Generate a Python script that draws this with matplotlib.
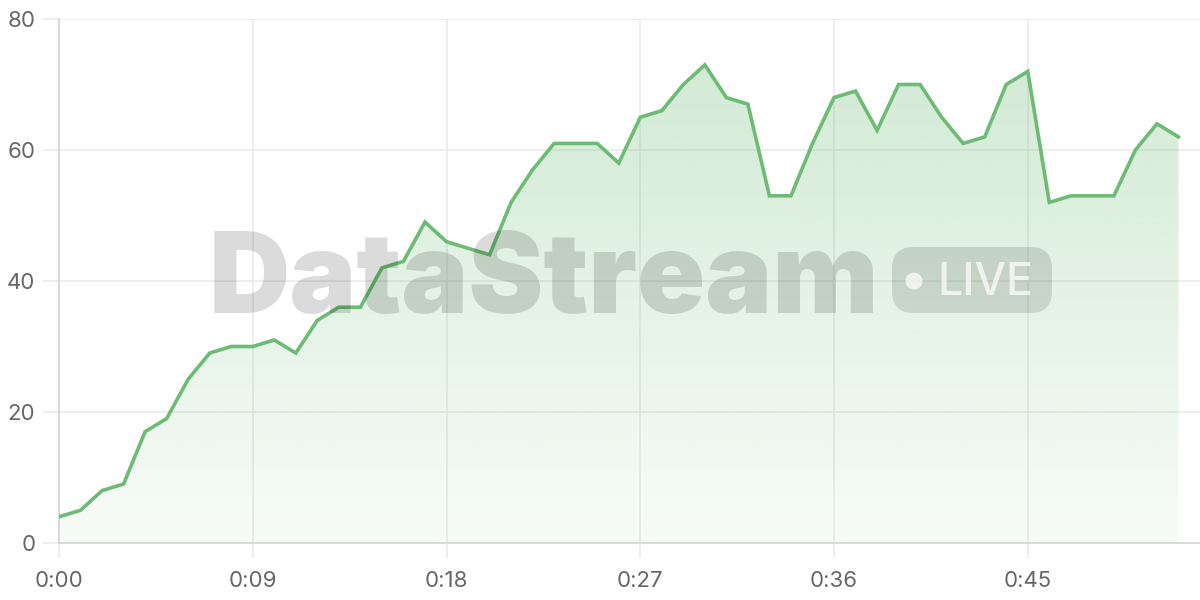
import matplotlib
matplotlib.use("Agg")
import matplotlib.pyplot as plt
import numpy as np
from matplotlib.patches import FancyBboxPatch, Ellipse, Polygon
from matplotlib.ticker import FixedLocator, FuncFormatter

seconds = list(range(53))
values = [4, 5, 8, 9, 17, 19, 25, 29, 30, 30, 31, 29, 34, 36, 36, 42, 43, 49, 46, 45,
          44, 52, 57, 61, 61, 61, 58, 65, 66, 70, 73, 68, 67, 53, 53, 61, 68, 69, 63, 70,
          70, 65, 61, 62, 70, 72, 52, 53, 53, 53, 60, 64, 62]
x_ticks = [0, 9, 18, 27, 36, 45]
y_ticks = [0, 20, 40, 60, 80]

LINE = "#6dbb74"
GRID = "#ebebeb"
AXIS = "#d4d4d4"
TXT = "#666666"

plt.rcParams['font.family'] = ['Inter', 'DejaVu Sans']

fig = plt.figure(figsize=(12, 6), dpi=100)
ax = fig.add_axes([59/1200, 1-543/600, 1-59/1200, (543-19)/600])
ax.set_xlim(0, 53)
ax.set_ylim(0, 80)

x = np.array(seconds, dtype=float)
y = np.array(values, dtype=float)

# gradient fill
grad = np.linspace(0, 1, 256)
rgba = np.zeros((256, 1, 4))
c = matplotlib.colors.to_rgb(LINE)
rgba[:, 0, 0] = c[0]; rgba[:, 0, 1] = c[1]; rgba[:, 0, 2] = c[2]
rgba[:, 0, 3] = 0.05 + 0.28 * grad
im = ax.imshow(rgba, extent=[x[0], x[-1], 0, 80], origin='lower', aspect='auto', zorder=1)
poly = Polygon(np.column_stack([np.r_[x, x[-1], x[0]], np.r_[y, 0, 0]]), closed=True,
               facecolor='none', edgecolor='none', transform=ax.transData)
ax.add_patch(poly)
im.set_clip_path(poly)

ax.plot(x, y, color=LINE, lw=2.6, zorder=4, solid_joinstyle='miter')

# grid and axes
ax.yaxis.set_major_locator(FixedLocator(y_ticks))
ax.xaxis.set_major_locator(FixedLocator(x_ticks))
ax.xaxis.set_major_formatter(FuncFormatter(lambda v, p: f"{int(v)//60}:{int(v)%60:02d}"))
ax.grid(True, color=GRID, lw=1.2, zorder=0)
ax.set_axisbelow(True)
for s in ['top', 'right']:
    ax.spines[s].set_visible(False)
for s in ['left', 'bottom']:
    ax.spines[s].set_color(AXIS)
    ax.spines[s].set_linewidth(1.2)
ax.tick_params(axis='y', length=11.5, width=1.2, color=GRID, pad=5.5, labelsize=16, labelcolor=TXT)
ax.tick_params(axis='x', length=11, width=1.2, color=GRID, pad=9, labelsize=16, labelcolor=TXT)

# watermark
fig.text(209/1200, 1-313/600, "DataStream", fontsize=81, fontweight='black', color='#000000',
         alpha=0.14, ha='left', va='baseline', zorder=3)
badge = FancyBboxPatch((892/1200, 1-313/600), 160/1200, 66/600,
                       boxstyle="round,pad=0,rounding_size=0.018", transform=fig.transFigure,
                       facecolor='#000000', alpha=0.12, edgecolor='none', zorder=3,
                       mutation_aspect=2)
fig.add_artist(badge)
fig.add_artist(Ellipse((914/1200, 1-281/600), 17/1200, 17/600, transform=fig.transFigure,
                       facecolor='white', alpha=0.72, edgecolor='none', zorder=3))
fig.text(937/1200, 1-295/600, "LIVE", fontsize=32, fontweight='medium', color='white', alpha=0.72,
         ha='left', va='baseline', zorder=3)

fig.savefig("out.png", dpi=100)
